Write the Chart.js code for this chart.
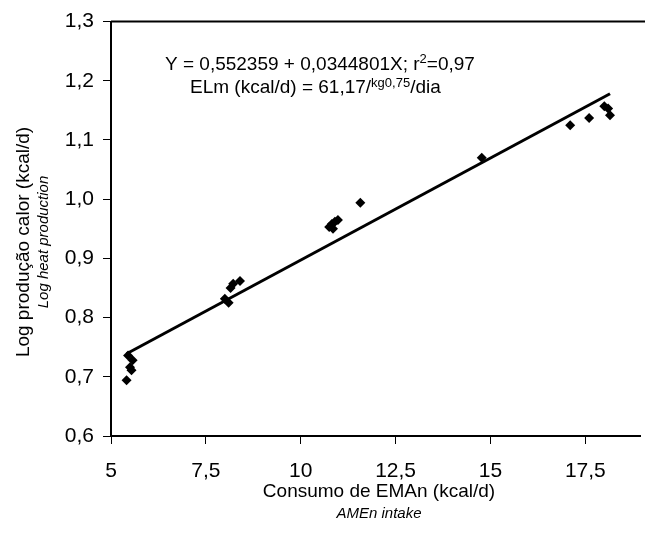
<!DOCTYPE html>
<html>
<head>
<meta charset="utf-8">
<script src="https://cdn.jsdelivr.net/npm/chart.js@4.4.0/dist/chart.umd.min.js"></script>
<style>
  html, body { margin: 0; padding: 0; background: #fff; }
  #wrap { width: 645px; height: 544px; }
</style>
</head>
<body>
<div id="wrap"><canvas id="chart" width="645" height="544"></canvas></div>
<script>
// dados
var consumo = [5.45, 5.57, 5.5, 5.54, 5.41, 8.0, 8.1, 8.15, 8.22, 8.4, 10.75, 10.82, 10.9, 10.98, 10.85, 11.57, 14.77, 17.1, 17.6, 18.0, 18.1, 18.15];
var calor = [0.736, 0.728, 0.716, 0.711, 0.694, 0.832, 0.825, 0.85, 0.857, 0.862, 0.953, 0.958, 0.962, 0.965, 0.95, 0.994, 1.07, 1.125, 1.137, 1.157, 1.153, 1.142];
var coefA = 0.552359;
var coefB = 0.0344801;
var xTicks = [5, 7.5, 10, 12.5, 15, 17.5];
var yTicks = [0.6, 0.7, 0.8, 0.9, 1.0, 1.1, 1.2, 1.3];

var fonte = "'Liberation Sans', Arial, sans-serif";

var pontos = consumo.map(function (x, i) { return { x: x, y: calor[i] }; });
var xMin = Math.min.apply(null, consumo);
var xMax = Math.max.apply(null, consumo);
var reta = [
	{ x: xMin, y: coefA + coefB * xMin },
	{ x: xMax, y: coefA + coefB * xMax },
];

function virgula(v, casas) {
	return v.toFixed(casas).replace(".", ",");
}

// escreve pedaços de texto em sequência, com sobrescritos
function linha(ctx, partes, x, y) {
	partes.forEach(function (p) {
		ctx.font = (p.sup ? p.tam + "px " : "19px ") + fonte;
		ctx.fillText(p.t, x, p.sup ? y - p.sup : y);
		x += ctx.measureText(p.t).width;
	});
}

var textos = {
	id: "textos",
	afterDraw: function (chart) {
		var ctx = chart.ctx;
		var area = chart.chartArea;
		ctx.save();
		ctx.fillStyle = "#000";
		ctx.strokeStyle = "#000";
		// borda superior
		ctx.lineWidth = 2;
		ctx.beginPath();
		ctx.moveTo(area.left, area.top);
		ctx.lineTo(chart.width, area.top);
		ctx.stroke();

		// equação
		ctx.textBaseline = "alphabetic";
		ctx.textAlign = "left";
		linha(ctx, [
			{ t: "Y = 0,552359 + 0,0344801X; r" },
			{ t: "2", sup: 7, tam: 13 },
			{ t: "=0,97" },
		], 165, 70);
		linha(ctx, [
			{ t: "ELm (kcal/d) = 61,17/" },
			{ t: "kg0,75", sup: 6, tam: 13 },
			{ t: "/dia" },
		], 190, 93);

		// título eixo x
		ctx.textAlign = "center";
		ctx.textBaseline = "middle";
		var mx = 379;
		ctx.font = "19px " + fonte;
		ctx.fillText("Consumo de EMAn (kcal/d)", mx, 492);
		ctx.font = "italic 15px " + fonte;
		ctx.fillText("AMEn intake", mx, 514);

		// título eixo y
		ctx.translate(0, 242);
		ctx.rotate(-Math.PI / 2);
		ctx.font = "19px " + fonte;
		ctx.fillText("Log produção calor (kcal/d)", 0, 24);
		ctx.font = "italic 15px " + fonte;
		ctx.fillText("Log heat production", 0, 44);
		ctx.restore();
	},
};

new Chart(document.getElementById("chart"), {
	type: "scatter",
	data: {
		datasets: [
			{
				data: pontos,
				pointStyle: "rectRot",
				pointRadius: 5,
				backgroundColor: "#000",
				borderColor: "#000",
				borderWidth: 0,
			},
			{
				type: "line",
				data: reta,
				borderColor: "#000",
				borderWidth: 3,
				pointRadius: 0,
				fill: false,
			},
		],
	},
	options: {
		responsive: false,
		animation: false,
		layout: { padding: { left: 0, right: 0, top: 20, bottom: 0 } },
		plugins: {
			legend: { display: false },
			tooltip: { enabled: false },
		},
		scales: {
			x: {
				type: "linear",
				min: 5,
				max: 18.94,
				afterBuildTicks: function (s) {
					s.ticks = xTicks.map(function (v) { return { value: v }; });
				},
				afterFit: function (s) { s.height = 108; },
				ticks: {
					color: "#000",
					font: { family: fonte, size: 21 },
					padding: 15,
					maxRotation: 0,
					callback: function (v) { return String(v).replace(".", ","); },
				},
				grid: { display: true, drawOnChartArea: false, drawTicks: true, tickLength: 8, color: "#000" },
				border: { display: true, color: "#000", width: 2 },
			},
			y: {
				type: "linear",
				min: 0.6,
				max: 1.3,
				afterBuildTicks: function (s) {
					s.ticks = yTicks.map(function (v) { return { value: v }; });
				},
				afterFit: function (s) { s.width = 111; },
				ticks: {
					color: "#000",
					font: { family: fonte, size: 21 },
					padding: 9,
					callback: function (v) { return virgula(v, 1); },
				},
				grid: { display: true, drawOnChartArea: false, drawTicks: true, tickLength: 8, color: "#000" },
				border: { display: true, color: "#000", width: 2 },
			},
		},
	},
	plugins: [textos],
});
</script>
</body>
</html>
